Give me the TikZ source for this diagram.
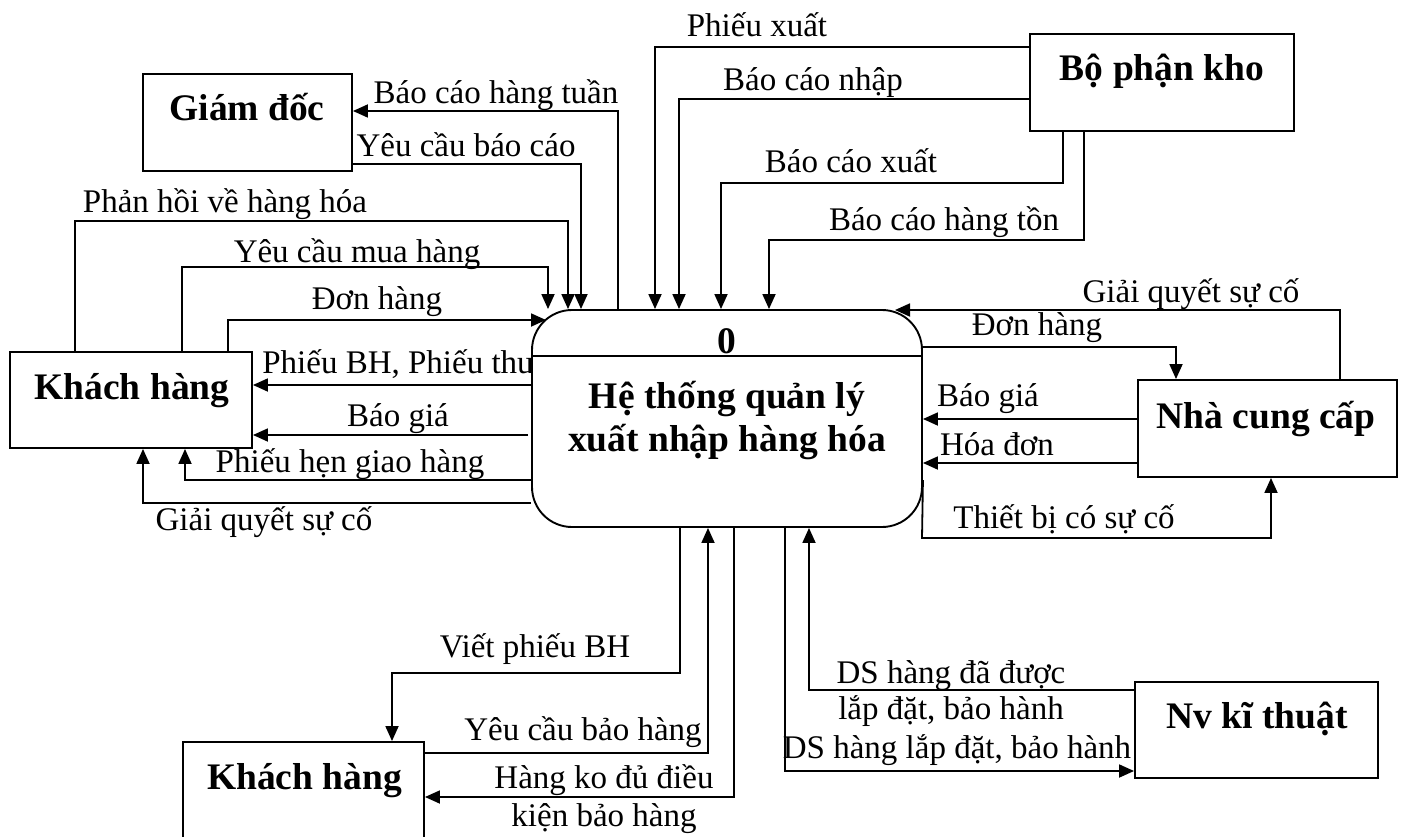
\documentclass[tikz,border=0pt]{standalone}
\usepackage{fontspec}
\setmainfont{Liberation Serif}
\usetikzlibrary{arrows.meta}
\tikzset{
  ebox/.style={draw, line width=1.9pt, inner sep=0pt},
  flow/.style={line width=1.8pt, -{Triangle[length=15pt,width=13pt]}},
  plain/.style={line width=1.4pt},
  lbl/.style={font=\fontsize{33}{37}\selectfont, anchor=base, inner sep=0pt},
  ent/.style={font=\bfseries\fontsize{37.5}{42}\selectfont, anchor=base, inner sep=0pt}
}
\begin{document}
\begin{tikzpicture}[x=1pt,y=-1pt]
\useasboundingbox (0,0) rectangle (1405,837);
\clip (0,0) rectangle (1405,837);
% entities
\node[ebox, minimum width=209pt, minimum height=97pt] (gd) at (247.5,122.5) {};
\node[ent] (gdt) at (247,121) {Giám đốc};
\node[ebox, minimum width=242pt, minimum height=96pt] (kh1) at (131,400) {};
\node[ent] (kh1t) at (132,399) {Khách hàng};
\node[ebox, minimum width=264pt, minimum height=97pt] (kho) at (1162,82.5) {};
\node[ent] (khot) at (1162,81) {Bộ phận kho};
\node[ebox, minimum width=259pt, minimum height=97pt] (ncc) at (1267.5,428.5) {};
\node[ent] (ncct) at (1266,428) {Nhà cung cấp};
\node[ebox, minimum width=241pt, minimum height=120pt] (kh2) at (303.5,802) {};
\node[ent] (kh2t) at (304.5,789) {Khách hàng};
\node[ebox, minimum width=243pt, minimum height=96pt] (nv) at (1256.5,730) {};
\node[ent] (nvt) at (1257,728) {Nv kĩ thuật};
% process
\node[ebox, rounded corners=40pt, minimum width=390pt, minimum height=217pt] (main) at (727,418.5) {};
\draw[plain] (main.west |- 0,356) -- (main.east |- 0,356);
\node[ent] (mnum) at (727,353) {0};
\node[ent] (mt1) at (727,408) {Hệ thống quản lý};
\node[ent] (mt2) at (727,451) {xuất nhập hàng hóa};
% free-end coordinates on the rounded corners
\coordinate (mcl) at (546,320);
\coordinate (mcr) at (895,310);
% connectors: Giám đốc
\draw[flow] (618,0 |- main.north) -- (618,111) -- (gd.east |- 0,111);
\node[lbl] (l1) at (496,104) {Báo cáo hàng tuần};
\draw[flow] (gd.east |- 0,164) -- (581,164) -- (581,0 |- main.north);
\node[lbl] (l2) at (466,157) {Yêu cầu báo cáo};
% Khách hàng (left)
\draw[flow] (75,0 |- kh1.north) -- (75,221) -- (568,221) -- (568,0 |- main.north);
\node[lbl] (l3) at (225,213) {Phản hồi về hàng hóa};
\draw[flow] (182,0 |- kh1.north) -- (182,267) -- (548,267) -- (548,0 |- main.north);
\node[lbl] (l4) at (357,262) {Yêu cầu mua hàng};
\draw[flow] (228,0 |- kh1.north) -- (228,320) -- (mcl);
\node[lbl] (l5) at (377,309) {Đơn hàng};
\draw[flow] (main.west |- 0,385) -- (kh1.east |- 0,385);
\node[lbl] (l6) at (398,373) {Phiếu BH, Phiếu thu};
\draw[flow] ([xshift=-3pt]main.west |- 0,435) -- (kh1.east |- 0,435);
\node[lbl] (l7) at (398,426) {Báo giá};
\draw[flow] (main.west |- 0,480) -- (185,480) -- (185,0 |- kh1.south);
\node[lbl] (l8) at (350,472) {Phiếu hẹn giao hàng};
\draw[flow] (main.west |- 0,503) -- (143,503) -- (143,0 |- kh1.south);
\node[lbl] (l9) at (264,530) {Giải quyết sự cố};
% Bộ phận kho
\draw[flow] (kho.west |- 0,47) -- (655,47) -- (655,0 |- main.north);
\node[lbl] (l10) at (757,37) {Phiếu xuất};
\draw[flow] (kho.west |- 0,99) -- (679,99) -- (679,0 |- main.north);
\node[lbl] (l11) at (813,91) {Báo cáo nhập};
\draw[flow] (1063,0 |- kho.south) -- (1063,183) -- (721,183) -- (721,0 |- main.north);
\node[lbl] (l12) at (851,173) {Báo cáo xuất};
\draw[flow] (1084,0 |- kho.south) -- (1084,240) -- (769,240) -- (769,0 |- main.north);
\node[lbl] (l13) at (944,230) {Báo cáo hàng tồn};
% Nhà cung cấp
\draw[flow] (1340,0 |- ncc.north) -- (1340,310) -- (mcr);
\node[lbl] (l14) at (1191,302) {Giải quyết sự cố};
\draw[flow] (main.east |- 0,347) -- (1176,347) -- (1176,0 |- ncc.north);
\node[lbl] (l15) at (1037,335) {Đơn hàng};
\draw[flow] (ncc.west |- 0,419) -- (main.east |- 0,419);
\node[lbl] (l16) at (988,406) {Báo giá};
\draw[flow] (ncc.west |- 0,463) -- (main.east |- 0,463);
\node[lbl] (l17) at (997,455) {Hóa đơn};
\draw[flow] (main.east |- 0,480) -- (922,538) -- (1271,538) -- (1271,0 |- ncc.south);
\node[lbl] (l18) at (1064,528) {Thiết bị có sự cố};
% Khách hàng (bottom)
\draw[flow] (680,0 |- main.south) -- (680,673) -- (392,673) -- (392,0 |- kh2.north);
\node[lbl] (l19) at (535,657) {Viết phiếu BH};
\draw[flow] (kh2.east |- 0,753) -- (708,753) -- (708,0 |- main.south);
\node[lbl] (l20) at (583,740) {Yêu cầu bảo hàng};
\draw[flow] (734,0 |- main.south) -- (734,797) -- (kh2.east |- 0,797);
\node[lbl] (l21) at (604,788) {Hàng ko đủ điều};
\node[lbl] (l22) at (604,826) {kiện bảo hàng};
% Nv kĩ thuật
\draw[flow] (785,0 |- main.south) -- (785,771) -- (nv.west |- 0,771);
\node[lbl] (l23) at (957,758) {DS hàng lắp đặt, bảo hành};
\draw[flow] (nv.west |- 0,690) -- (809,690) -- (809,0 |- main.south);
\node[lbl] (l24) at (951,683) {DS hàng đã được};
\node[lbl] (l25) at (951,719) {lắp đặt, bảo hành};
\end{tikzpicture}
\end{document}
